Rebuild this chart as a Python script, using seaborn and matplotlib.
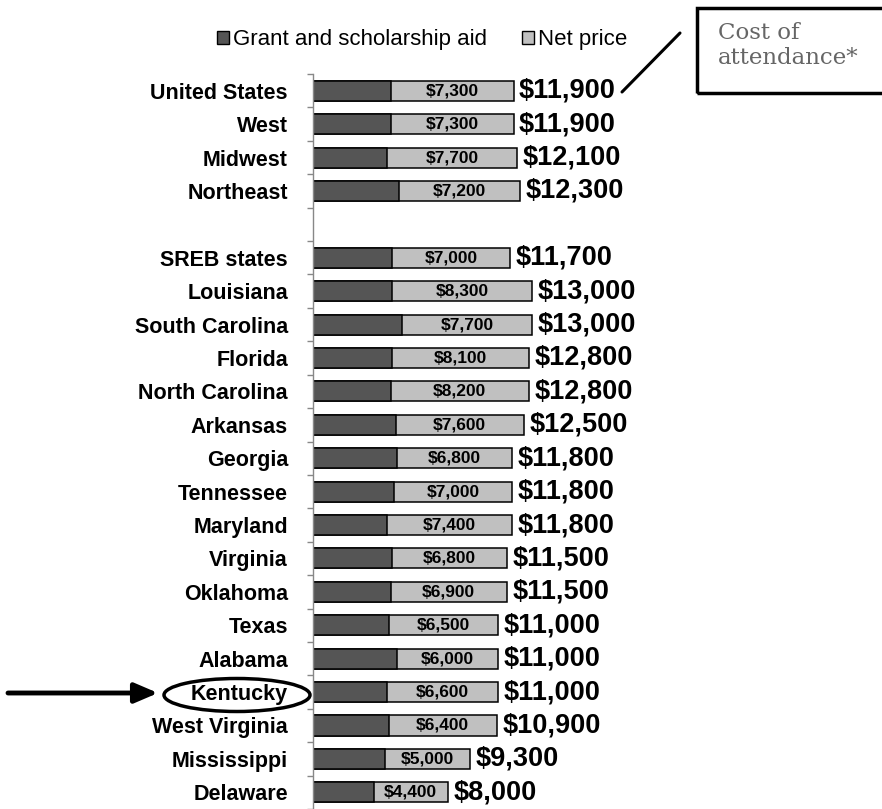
import matplotlib
matplotlib.use("Agg")
import matplotlib.pyplot as plt
import seaborn as sns
import pandas as pd
from matplotlib.patches import Ellipse, Rectangle
from matplotlib.lines import Line2D

regions = ["United States", "West", "Midwest", "Northeast"]
cost_regions = [11900, 11900, 12100, 12300]
net_regions = [7300, 7300, 7700, 7200]

states = ["SREB states", "Louisiana", "South Carolina", "Florida", "North Carolina",
          "Arkansas", "Georgia", "Tennessee", "Maryland", "Virginia", "Oklahoma",
          "Texas", "Alabama", "Kentucky", "West Virginia", "Mississippi", "Delaware"]
cost_states = [11700, 13000, 13000, 12800, 12800, 12500, 11800, 11800, 11800,
               11500, 11500, 11000, 11000, 11000, 10900, 9300, 8000]
net_states = [7000, 8300, 7700, 8100, 8200, 7600, 6800, 7000, 7400, 6800, 6900,
              6500, 6000, 6600, 6400, 5000, 4400]

names = regions + states
costs = cost_regions + cost_states
nets = net_regions + net_states
df = pd.DataFrame({"name": names, "cost": costs, "net": nets})
df["grant"] = df["cost"] - df["net"]

spacer = " "
order = regions + [spacer] + states

DARK = "#555555"
LIGHT = "#c0c0c0"

sns.set_style("white")
plt.rcParams["font.family"] = ["Liberation Sans", "DejaVu Sans"]
plt.rcParams["text.color"] = "black"
plt.rcParams["ytick.color"] = "black"

W, H = 882, 809
fig = plt.figure(figsize=(W / 100, H / 100), dpi=100)
ax = fig.add_axes([313 / W, 0, 1 - 313 / W, 1 - 74 / H])

sns.barplot(data=df, y="name", x="cost", order=order, orient="h", color=LIGHT,
            saturation=1, edgecolor="black", linewidth=1.1, width=0.6, ax=ax)
sns.barplot(data=df, y="name", x="grant", order=order, orient="h", color=DARK,
            saturation=1, edgecolor="black", linewidth=1.1, width=0.6, ax=ax)

for _, r in df.iterrows():
    i = order.index(r["name"])
    ax.text(r["grant"] + r["net"] / 2, i, f"${r['net']:,}", ha="center", va="center",
            fontsize=12.5, fontweight="bold", color="black")
    ax.annotate(f"${r['cost']:,}", (r["cost"], i), xytext=(4, 0),
                textcoords="offset points", ha="left", va="center",
                fontsize=19.5, fontweight="bold", color="black")

ax.set_xlim(0, 33770)
ax.set_ylim(len(order) - 1 + 0.45, -0.5)
ax.set_yticks(range(len(order)))
ax.set_yticklabels(order, fontsize=15.5, fontweight="bold", color="black")
ax.set_yticks([i - 0.5 for i in range(len(order))] + [len(order) - 0.5], minor=True)
ax.tick_params(axis="y", which="major", length=0, pad=18, labelcolor="black")
ax.tick_params(axis="y", which="minor", length=4, color="#888888", width=1, direction="out", left=True)
ax.set_xticks([])
ax.set_xlabel("")
ax.set_ylabel("")
for s in ["top", "right", "bottom"]:
    ax.spines[s].set_visible(False)
ax.spines["left"].set_color("#888888")
ax.spines["left"].set_linewidth(1)

# legend
handles = [Rectangle((0, 0), 1, 1, facecolor=DARK, edgecolor="black", lw=1),
           Rectangle((0, 0), 1, 1, facecolor=LIGHT, edgecolor="black", lw=1)]
fig.legend(handles, ["Grant and scholarship aid", "Net price"], loc="center",
           bbox_to_anchor=(422 / W, 1 - 40 / H), ncol=2, frameon=False,
           fontsize=16, handlelength=0.55, handleheight=0.55, handletextpad=0.15,
           columnspacing=1.6, labelcolor="black")

# callout box
fig.add_artist(Rectangle((697 / W, 1 - 93 / H), (885 - 697) / W, 85 / H,
                         transform=fig.transFigure, fill=False, lw=2.5, ec="black"))
fig.text(718 / W, 1 - 22 / H, "Cost of\nattendance*", ha="left", va="top",
         fontsize=16.5, color="#666666", family="DejaVu Serif", linespacing=1.15)
fig.add_artist(Line2D([680 / W, 622 / W], [1 - 33 / H, 1 - 92 / H],
                      transform=fig.transFigure, color="black", lw=2.2))

# Kentucky highlight
fig.add_artist(Ellipse((237 / W, 1 - 695 / H), 146 / W, 33 / H,
                       transform=fig.transFigure, fill=False, ec="black", lw=2.5))
ax.annotate("", xy=(158 / W, 1 - 693 / H), xytext=(8 / W, 1 - 693 / H),
            xycoords="figure fraction", textcoords="figure fraction",
            arrowprops=dict(arrowstyle="-|>,head_length=1.4,head_width=0.6",
                            color="black", lw=3.5, shrinkA=0, shrinkB=0))

fig.savefig("out.png", dpi=100)
